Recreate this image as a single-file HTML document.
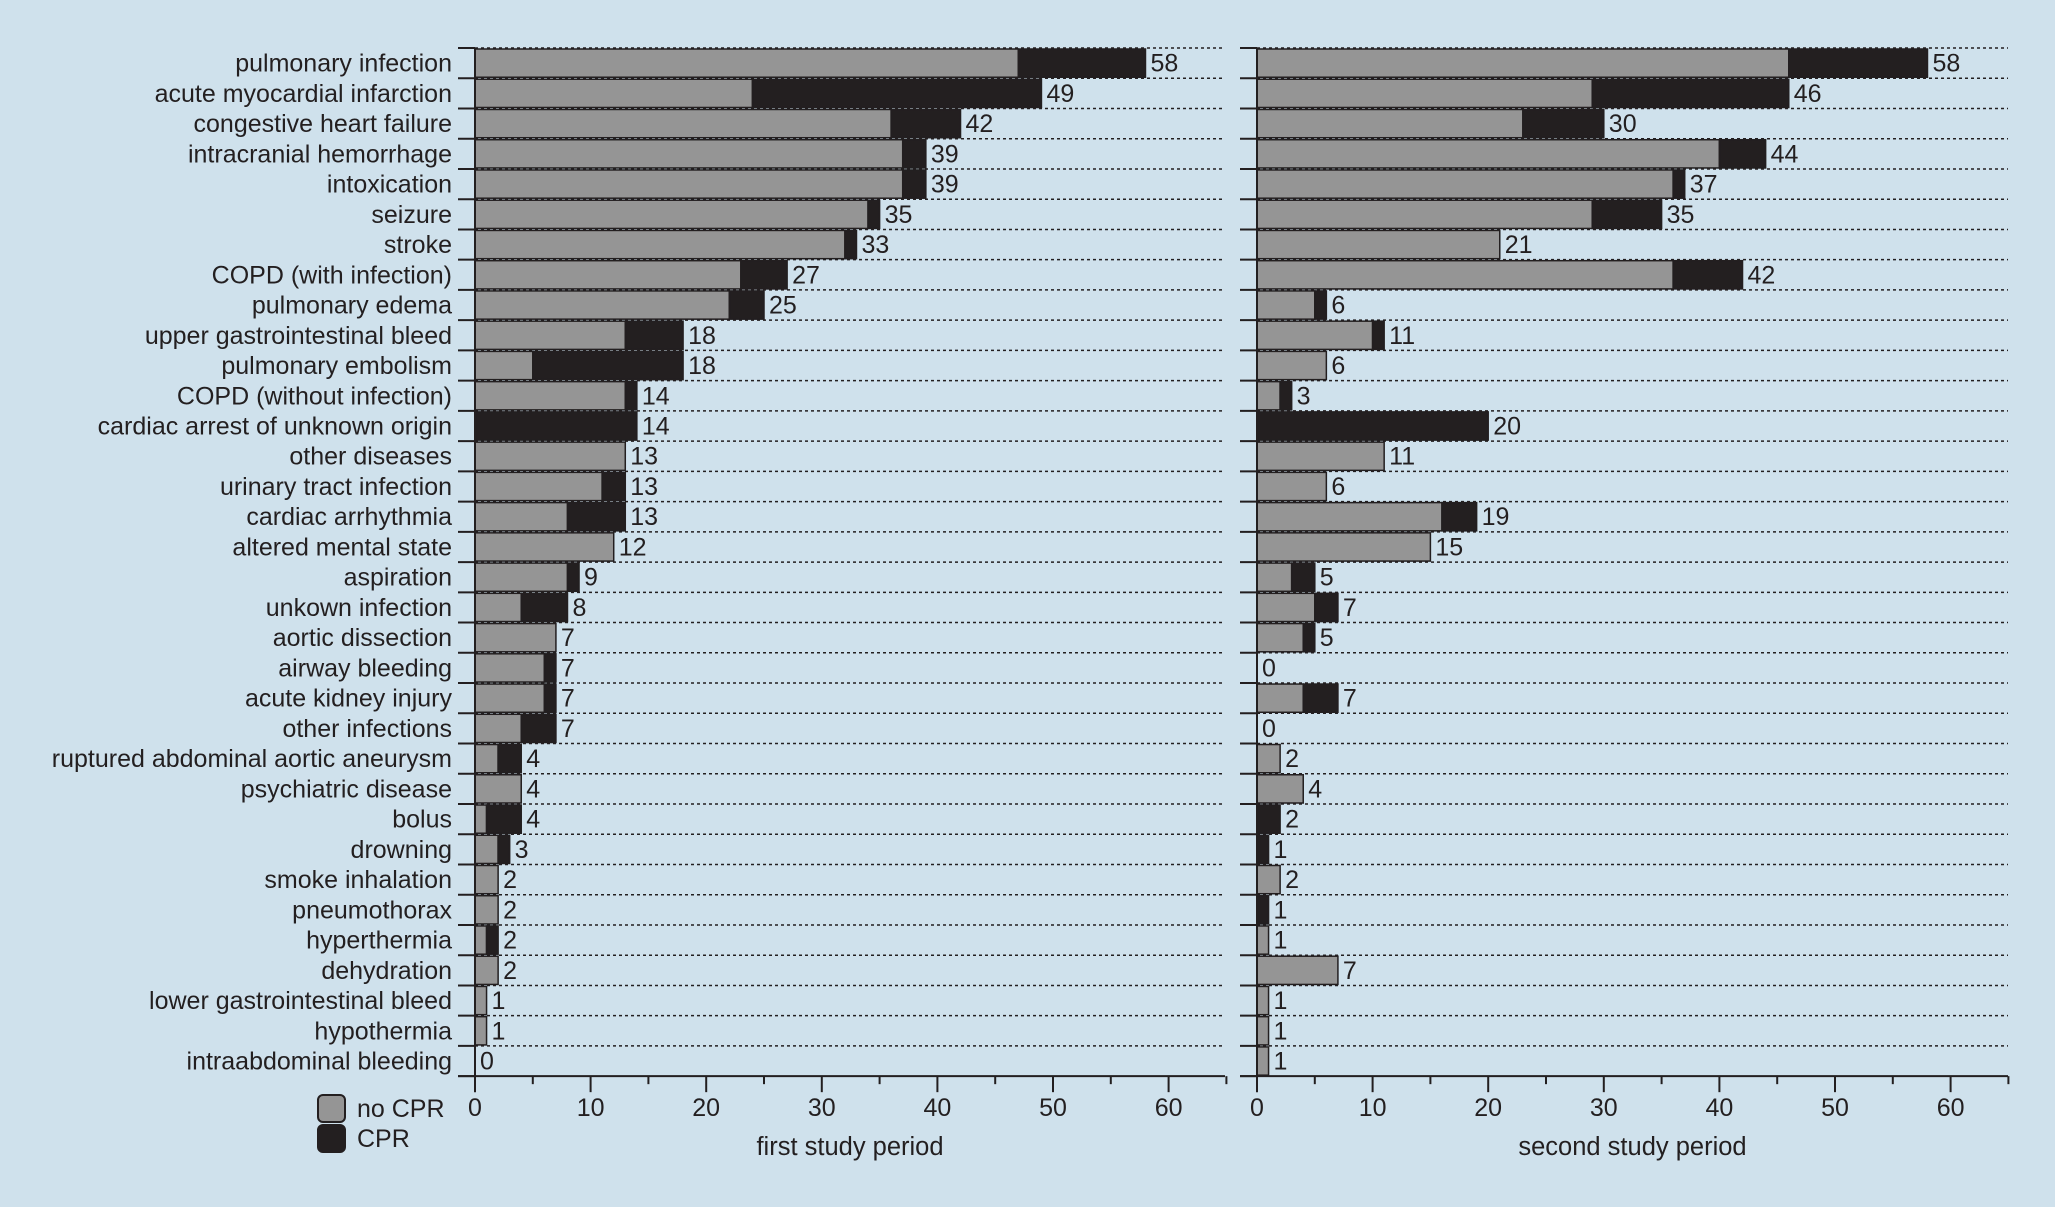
<!DOCTYPE html>
<html><head><meta charset="utf-8"><style>
html,body{margin:0;padding:0;background:#cfe1ec;}
svg{display:block;font-family:"Liberation Sans",Arial,sans-serif;}
</style></head><body>
<svg id="chart" width="2055" height="1207" viewBox="0 0 2055 1207" xmlns="http://www.w3.org/2000/svg">
<rect x="0" y="0" width="2055" height="1207" fill="#cfe1ec"/>
<g id="legend">
<rect x="318" y="1095" width="27" height="27" rx="5" fill="#959595" stroke="#231f20" stroke-width="2"/>
<text x="357" y="1117" font-size="25" fill="#231f20">no CPR</text>
<rect x="318" y="1125" width="27" height="27" rx="5" fill="#231f20" stroke="#231f20" stroke-width="2"/>
<text x="357" y="1147" font-size="25" fill="#231f20">CPR</text>
</g>
</svg>
<script>
const categories = ["pulmonary infection","acute myocardial infarction","congestive heart failure","intracranial hemorrhage","intoxication","seizure","stroke","COPD (with infection)","pulmonary edema ","upper gastrointestinal bleed","pulmonary embolism","COPD (without infection)","cardiac arrest of unknown origin","other diseases","urinary tract infection","cardiac arrhythmia","altered mental state","aspiration","unkown infection","aortic dissection","airway bleeding","acute kidney injury","other infections","ruptured abdominal aortic aneurysm","psychiatric disease","bolus","drowning","smoke inhalation","pneumothorax","hyperthermia","dehydration","lower gastrointestinal bleed","hypothermia","intraabdominal bleeding"];
const firstNoCPR = [47,24,36,37,37,34,32,23,22,13,5,13,0,13,11,8,12,8,4,7,6,6,4,2,4,1,2,2,2,1,2,1,1,0];
const firstTotal = [58,49,42,39,39,35,33,27,25,18,18,14,14,13,13,13,12,9,8,7,7,7,7,4,4,4,3,2,2,2,2,1,1,0];
const secondNoCPR = [46,29,23,40,36,29,21,36,5,10,6,2,0,11,6,16,15,3,5,4,0,4,0,2,4,0,0,2,0,1,7,1,1,1];
const secondTotal = [58,46,30,44,37,35,21,42,6,11,6,3,20,11,6,19,15,5,7,5,0,7,0,2,4,2,1,2,1,1,7,1,1,1];
const xTicks = [0,10,20,30,40,50,60];
const panelTitles = ["first study period","second study period"];

const NS="http://www.w3.org/2000/svg";
const svg=document.getElementById('chart');
const top0=48, rowH=30.24, unit=11.56, axisY=top0+rowH*categories.length;
const FS=25;
const panels=[{x0:475,xEnd:1225,no:firstNoCPR,tot:firstTotal},{x0:1257,xEnd:2008,no:secondNoCPR,tot:secondTotal}];
function el(tag,attrs,parent){const e=document.createElementNS(NS,tag);for(const k in attrs)e.setAttribute(k,attrs[k]);(parent||svg).appendChild(e);return e;}
function yRow(i){return top0+i*rowH;}

categories.forEach((c,i)=>{
  const t=el('text',{x:452,y:yRow(i)+rowH/2+8.5,'font-size':FS,'text-anchor':'end',fill:'#231f20'});
  
  
  t.textContent=c;
});

panels.forEach((p,pi)=>{
  const g=el('g',{});
  
  
  const sx=v=>p.x0+v*unit;
  for(let i=0;i<=categories.length;i++){
    const y=yRow(i);
    if(i<categories.length){
      const d=el('line',{x1:p.x0,x2:p.xEnd,y1:y,y2:y,stroke:'#231f20','stroke-width':1.5,'stroke-dasharray':'3,3'},g);
      
      
    }
    const tk=el('line',{x1:p.x0-17,x2:p.x0,y1:y,y2:y,stroke:'#231f20','stroke-width':2},g);
    
    
  }
  categories.forEach((c,i)=>{
    const y=yRow(i), n=p.no[i], t=p.tot[i];
    if(n>0){const r=el('rect',{x:sx(0),y:y+1,width:sx(n)-sx(0),height:rowH-2,fill:'#959595',stroke:'#231f20','stroke-width':1.5},g);
      
      }
    if(t>n){const r=el('rect',{x:sx(n),y:y+1,width:sx(t)-sx(n),height:rowH-2,fill:'#231f20',stroke:'#231f20','stroke-width':1.5},g);
      
      }
    const v=el('text',{x:sx(t)+5,y:y+rowH/2+8.5,'font-size':FS,fill:'#231f20'},g);
    
    
    v.textContent=t;
  });
  const ax=el('line',{x1:p.x0,x2:p.x0,y1:top0,y2:axisY+16,stroke:'#231f20','stroke-width':2},g);
  
  
  const xa=el('line',{x1:p.x0-17,x2:p.xEnd,y1:axisY,y2:axisY,stroke:'#231f20','stroke-width':2},g);
  
  
  xTicks.forEach(v=>{
    const t=el('line',{x1:sx(v),x2:sx(v),y1:axisY,y2:axisY+16,stroke:'#231f20','stroke-width':2},g);
    
    
    const m=el('line',{x1:sx(v+5),x2:sx(v+5),y1:axisY,y2:axisY+8,stroke:'#231f20','stroke-width':2},g);
    
    
    const l=el('text',{x:sx(v),y:axisY+40,'font-size':FS,'text-anchor':'middle',fill:'#231f20'},g);
    
    
    l.textContent=v;
  });
  const tt=el('text',{x:(p.x0+p.xEnd)/2,y:1155,'font-size':25.5,'text-anchor':'middle',fill:'#231f20'},g);
  
  
  tt.textContent=panelTitles[pi];
});
svg.appendChild(document.getElementById('legend'));
</script>
</body></html>
